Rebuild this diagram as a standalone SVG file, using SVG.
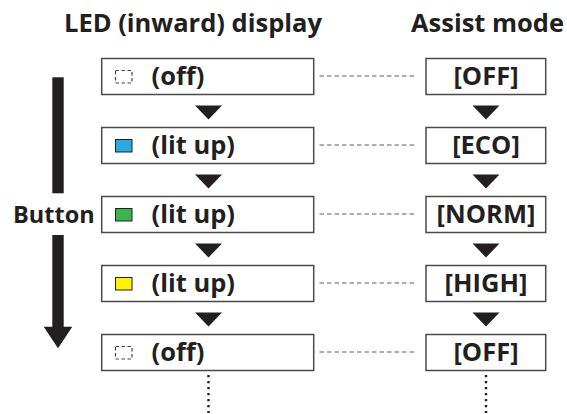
<svg xmlns="http://www.w3.org/2000/svg" width="567" height="414" viewBox="0 0 567 414">
<style>
text{font-family:"Open Sans","Liberation Sans",sans-serif;font-weight:700;fill:#231f20;font-size:25.5px}
.box{fill:#fff;stroke:#4a4a4a;stroke-width:1.5}
.dash{stroke:#5f5f5f;stroke-width:1.2;stroke-dasharray:4.5 3;fill:none}
.dot{stroke:#231f20;stroke-width:2.4;stroke-dasharray:2.2 3.8;fill:none}
.tri{fill:#231f20}
.off{fill:none;stroke:#444;stroke-width:1.2;stroke-dasharray:3.5 2.5}
.sq{stroke:#231f20;stroke-width:1}
.r{text-anchor:middle}
.btn{font-size:23.5px}
</style>
<defs>
<path id="tri" d="M-13.5,0 L13.5,0 L0,14 Z" class="tri"/>
</defs>
<g id="headings">
<text class="r" x="193" y="32">LED (inward) display</text>
<text class="r" x="487.5" y="32">Assist mode</text>
</g>
<g id="button">
<rect x="52.3" y="77.3" width="11.4" height="116" fill="#231f20"/>
<path d="M52.3,235 H63.7 V326.7 H72.3 L58,348.3 L43.7,326.7 H52.3 Z" fill="#231f20"/>
<text class="btn" x="13" y="222.5">Button</text>
</g>
<g id="connectors">
<line class="dash" x1="319.5" y1="76" x2="416" y2="76"/>
<line class="dash" x1="319.5" y1="145" x2="416" y2="145"/>
<line class="dash" x1="319.5" y1="214" x2="416" y2="214"/>
<line class="dash" x1="319.5" y1="283" x2="416" y2="283"/>
<line class="dash" x1="319.5" y1="352" x2="416" y2="352"/>
<use href="#tri" x="208.5" y="105.5"/>
<use href="#tri" x="486" y="105.5"/>
<use href="#tri" x="208.5" y="174.5"/>
<use href="#tri" x="486" y="174.5"/>
<use href="#tri" x="208.5" y="243.5"/>
<use href="#tri" x="486" y="243.5"/>
<use href="#tri" x="208.5" y="312.5"/>
<use href="#tri" x="486" y="312.5"/>
<line class="dot" x1="208.5" y1="375" x2="208.5" y2="413"/>
<line class="dot" x1="486" y1="375" x2="486" y2="413"/>
</g>
<g id="led1">
<rect class="box" x="101.7" y="58.5" width="212" height="36"/>
<rect class="off" x="115.5" y="70.5" width="16.5" height="12.5"/>
<text x="151.5" y="85">(off)</text>
</g>
<g id="mode1">
<rect class="box" x="426" y="58.5" width="119.7" height="36"/>
<text class="r" x="486" y="85">[OFF]</text>
</g>
<g id="led2">
<rect class="box" x="101.7" y="127.5" width="212" height="36"/>
<rect class="sq" x="115.5" y="139.5" width="16.5" height="12.5" fill="#29abe2"/>
<text x="151.5" y="154">(lit up)</text>
</g>
<g id="mode2">
<rect class="box" x="426" y="127.5" width="119.7" height="36"/>
<text class="r" x="486" y="154">[ECO]</text>
</g>
<g id="led3">
<rect class="box" x="101.7" y="196.5" width="212" height="36"/>
<rect class="sq" x="115.5" y="208.5" width="16.5" height="12.5" fill="#39b54a"/>
<text x="151.5" y="223">(lit up)</text>
</g>
<g id="mode3">
<rect class="box" x="426" y="196.5" width="119.7" height="36"/>
<text class="r" x="486" y="223">[NORM]</text>
</g>
<g id="led4">
<rect class="box" x="101.7" y="265.5" width="212" height="36"/>
<rect class="sq" x="115.5" y="277.5" width="16.5" height="12.5" fill="#fff200"/>
<text x="151.5" y="292">(lit up)</text>
</g>
<g id="mode4">
<rect class="box" x="426" y="265.5" width="119.7" height="36"/>
<text class="r" x="486" y="292">[HIGH]</text>
</g>
<g id="led5">
<rect class="box" x="101.7" y="334.5" width="212" height="36"/>
<rect class="off" x="115.5" y="346.5" width="16.5" height="12.5"/>
<text x="151.5" y="361">(off)</text>
</g>
<g id="mode5">
<rect class="box" x="426" y="334.5" width="119.7" height="36"/>
<text class="r" x="486" y="361">[OFF]</text>
</g>
</svg>
